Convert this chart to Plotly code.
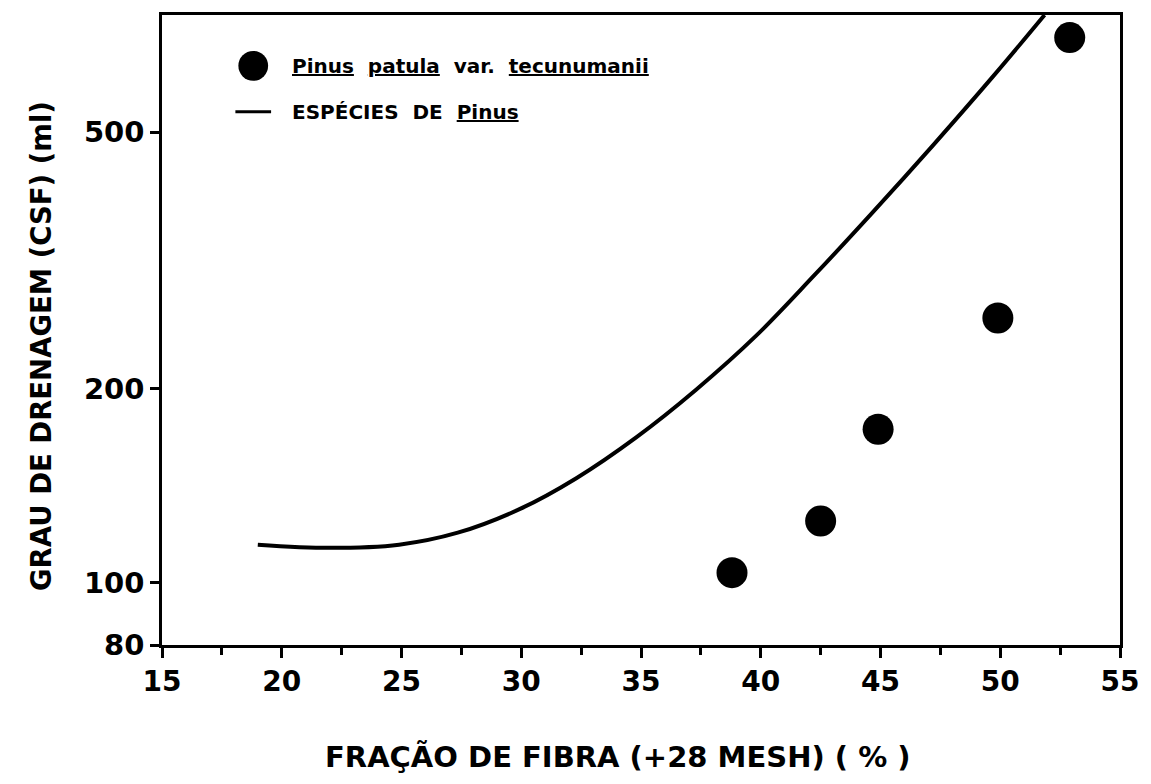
import plotly.graph_objects as go

# Pinus patula var. tecunumanii (data points)
patula_x = [38.8, 42.5, 44.9, 49.9, 52.9]
patula_y = [103.6, 124.6, 172.9, 257.3, 701.0]

# Espécies de Pinus (reference curve)
pinus_x = [19.0, 22.0, 24.9, 27.35, 29.95, 32.3, 34.8, 37.3, 39.8, 42.2, 44.7, 47.2, 49.7, 51.85]
pinus_y = [114.5, 113.2, 114.5, 119.5, 130.1, 145.2, 168.0, 199.2, 241.4, 298.8, 376.4, 477.5, 610.3, 760.0]

x_ticks = [15, 20, 25, 30, 35, 40, 45, 50, 55]
y_ticks = [80, 100, 200, 500]

FONT = "DejaVu Sans"

fig = go.Figure()
fig.add_trace(go.Scatter(x=pinus_x, y=pinus_y, mode="lines",
                         line=dict(color="black", width=4, shape="spline", smoothing=1.0),
                         name="ESPÉCIES DE Pinus", showlegend=False))
fig.add_trace(go.Scatter(x=patula_x, y=patula_y, mode="markers",
                         marker=dict(color="black", size=31),
                         name="Pinus patula var. tecunumanii", showlegend=False))

fig.update_xaxes(range=[15, 55], tickvals=x_ticks, ticktext=[f"<b>{v}</b>" for v in x_ticks],
                 ticks="outside", ticklen=10, tickwidth=2.5, tickcolor="black",
                 minor=dict(tickvals=[17.5, 22.5, 27.5, 32.5, 37.5, 42.5, 47.5, 52.5],
                            ticks="outside", ticklen=7, tickwidth=2.5, tickcolor="black"),
                 showline=True, linecolor="black", linewidth=2.5, mirror=True,
                 showgrid=False, zeroline=False,
                 tickfont=dict(family=FONT, size=28, color="black"))
fig.update_yaxes(type="log", range=[1.90309, 2.8808], tickvals=y_ticks,
                 ticktext=[f"<b>{v}</b>" for v in y_ticks],
                 ticks="outside", ticklen=9, tickwidth=2.5, tickcolor="black",
                 showline=True, linecolor="black", linewidth=2.5, mirror=True,
                 showgrid=False, zeroline=False,
                 tickfont=dict(family=FONT, size=29, color="black"))

PW = 1151 - 162 - 23
PH = 645 - 13

# Legend drawn in paper coordinates
fig.add_shape(type="circle", xref="paper", yref="paper",
              x0=(239 - 162) / PW, x1=(269 - 162) / PW,
              y0=(645 - 79) / PH, y1=(645 - 49) / PH,
              fillcolor="black", line=dict(color="black", width=0))
fig.add_shape(type="line", xref="paper", yref="paper",
              x0=(236 - 162) / PW, x1=(272 - 162) / PW,
              y0=(645 - 110) / PH, y1=(645 - 110) / PH,
              line=dict(color="black", width=3))
fig.add_annotation(xref="paper", yref="paper", x=(291 - 162) / PW, y=(645 - 64) / PH,
                   xanchor="left", yanchor="middle", showarrow=False,
                   text="<b><u>Pinus</u>  <u>patula</u>  var.  <u>tecunumanii</u></b>",
                   font=dict(family=FONT, size=20, color="black"))
fig.add_annotation(xref="paper", yref="paper", x=(291 - 162) / PW, y=(645 - 110) / PH,
                   xanchor="left", yanchor="middle", showarrow=False,
                   text="<b>ESPÉCIES  DE  <u>Pinus</u></b>",
                   font=dict(family=FONT, size=20, color="black"))

# Axis titles
fig.add_annotation(xref="paper", yref="paper", x=(622 - 162) / PW, y=(645 - 757) / PH,
                   xanchor="center", yanchor="middle", showarrow=False,
                   text="<b>FRAÇÃO DE FIBRA (+28 MESH) ( % )</b>",
                   font=dict(family=FONT, size=29, color="black"))
fig.add_annotation(xref="paper", yref="paper", x=(40 - 162) / PW, y=(645 - 345) / PH,
                   xanchor="center", yanchor="middle", showarrow=False, textangle=-90,
                   text="<b>GRAU DE DRENAGEM (CSF) (ml)</b>",
                   font=dict(family=FONT, size=27.5, color="black"))

fig.update_layout(width=1151, height=784,
                  margin=dict(l=162, r=23, t=13, b=139),
                  plot_bgcolor="white", paper_bgcolor="white",
                  showlegend=False)

fig.write_html("out.html")
